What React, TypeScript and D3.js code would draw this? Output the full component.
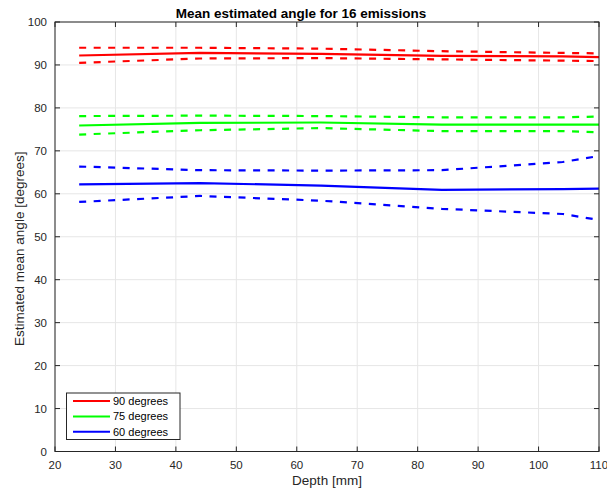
import React from "react";
import * as d3 from "d3";

const depths = [24, 44, 64, 84, 104, 110];

const red = [92.2, 92.8, 92.6, 92.1, 92.0, 91.8];
const redUpper = [94.0, 94.0, 93.8, 93.2, 92.8, 92.7];
const redLower = [90.5, 91.5, 91.6, 91.3, 91.0, 90.9];

const green = [75.9, 76.5, 76.6, 76.1, 76.1, 76.1];
const greenUpper = [78.1, 78.2, 78.1, 77.8, 77.8, 78.0];
const greenLower = [73.8, 74.8, 75.3, 74.6, 74.6, 74.3];

const blue = [62.2, 62.5, 61.9, 60.9, 61.1, 61.2];
const blueUpper = [66.35, 65.5, 65.4, 65.5, 67.4, 68.8];
const blueLower = [58.1, 59.5, 58.4, 56.5, 55.3, 53.9];

const xTicks = [20, 30, 40, 50, 60, 70, 80, 90, 100, 110];
const yTicks = [0, 10, 20, 30, 40, 50, 60, 70, 80, 90, 100];

const legendLabels = ["90 degrees", "75 degrees", "60 degrees"];
const colors = ["#ff0000", "#00ff00", "#0000ff"];

const title = "Mean estimated angle for 16 emissions";
const xLabel = "Depth [mm]";
const yLabel = "Estimated mean angle [degrees]";

export default function App() {
  const W = 607;
  const H = 491;
  const left = 55, right = 599, top = 22, bottom = 451.5;
  const x = d3.scaleLinear().domain([20, 110]).range([left, right]);
  const y = d3.scaleLinear().domain([0, 100]).range([bottom, top]);
  const line = d3
    .line<number>()
    .x((_, i) => x(depths[i]))
    .y((d) => y(d));

  const series = [
    { c: colors[0], mean: red, up: redUpper, lo: redLower },
    { c: colors[1], mean: green, up: greenUpper, lo: greenLower },
    { c: colors[2], mean: blue, up: blueUpper, lo: blueLower },
  ];
  const font = "'Liberation Sans', Arial, Helvetica, sans-serif";
  const axisColor = "#262626";
  const tickLen = 5;

  return (
    <svg
      width={W}
      height={H}
      style={{ position: "absolute", left: 0, top: 0, background: "#fff" }}
      fontFamily={font}
    >
      <rect x={0} y={0} width={W} height={H} fill="#fff" />
      {xTicks.map((t) => (
        <line key={"gx" + t} x1={x(t)} x2={x(t)} y1={top} y2={bottom} stroke="#e6e6e6" strokeWidth={1} />
      ))}
      {yTicks.map((t) => (
        <line key={"gy" + t} x1={left} x2={right} y1={y(t)} y2={y(t)} stroke="#e6e6e6" strokeWidth={1} />
      ))}
      <defs>
        <clipPath id="plotclip">
          <rect x={left} y={top} width={right - left} height={bottom - top} />
        </clipPath>
      </defs>
      <g clipPath="url(#plotclip)">
        {series.map((s, i) => (
          <g key={"s" + i}>
            <path d={line(s.up) || ""} fill="none" stroke={s.c} strokeWidth={2.2} strokeDasharray="7,7.5" />
            <path d={line(s.lo) || ""} fill="none" stroke={s.c} strokeWidth={2.2} strokeDasharray="7,7.5" />
            <path d={line(s.mean) || ""} fill="none" stroke={s.c} strokeWidth={2.2} />
          </g>
        ))}
      </g>
      <rect x={left} y={top} width={right - left} height={bottom - top} fill="none" stroke={axisColor} strokeWidth={1} />
      {xTicks.map((t) => (
        <g key={"tx" + t}>
          <line x1={x(t)} x2={x(t)} y1={bottom} y2={bottom - tickLen} stroke={axisColor} />
          <line x1={x(t)} x2={x(t)} y1={top} y2={top + tickLen} stroke={axisColor} />
          <text x={x(t)} y={bottom + 17} textAnchor="middle" fontSize={11.5} fill={axisColor}>
            {t}
          </text>
        </g>
      ))}
      {yTicks.map((t) => (
        <g key={"ty" + t}>
          <line x1={left} x2={left + tickLen} y1={y(t)} y2={y(t)} stroke={axisColor} />
          <line x1={right} x2={right - tickLen} y1={y(t)} y2={y(t)} stroke={axisColor} />
          <text x={left - 8} y={y(t) + 4.2} textAnchor="end" fontSize={11.5} fill={axisColor}>
            {t}
          </text>
        </g>
      ))}
      <text x={301} y={18} textAnchor="middle" fontSize={13.5} fontWeight="bold" fill="#000">
        {title}
      </text>
      <text x={(left + right) / 2} y={485} textAnchor="middle" fontSize={13.5} fill={axisColor}>
        {xLabel}
      </text>
      <text
        transform={`translate(23.5, ${(top + bottom) / 2 + 12}) rotate(-90)`}
        textAnchor="middle"
        fontSize={13.5}
        fill={axisColor}
      >
        {yLabel}
      </text>
      <g>
        <rect x={66.5} y={393} width={113.5} height={46.5} fill="#fff" stroke={axisColor} strokeWidth={1} />
        {legendLabels.map((l, i) => (
          <g key={"l" + i}>
            <line x1={73} x2={110} y1={401 + i * 15.4} y2={401 + i * 15.4} stroke={colors[i]} strokeWidth={2} />
            <text x={113} y={401 + i * 15.4 + 4} fontSize={11} fill="#000">
              {l}
            </text>
          </g>
        ))}
      </g>
    </svg>
  );
}
